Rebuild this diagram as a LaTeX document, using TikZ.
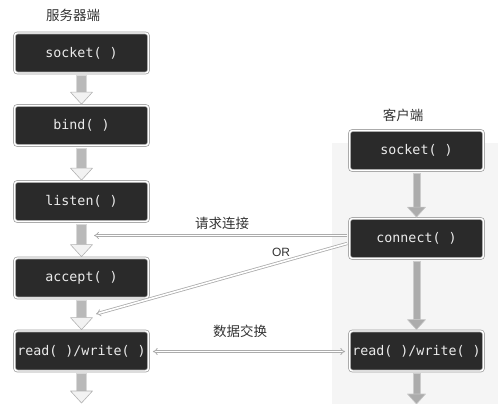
\documentclass[tikz,border=0pt]{standalone}
\usepackage{fontspec}
\setmainfont{Liberation Sans}
\newfontfamily\cjk{Noto Sans CJK SC}
\newfontfamily\boxfont{DejaVu Sans Mono}
\usetikzlibrary{arrows.meta,calc}
\definecolor{boxfill}{HTML}{2A2A2A}
\tikzset{
  fnbox/.style={rounded corners=3pt, fill=boxfill, draw=gray!75, double=white,
    double distance=1.4pt, line width=0.7pt, minimum width=134pt, minimum height=40pt,
    text=white!92!black, font=\boxfont\fontsize{13.3}{15}\selectfont, inner sep=0pt},
  cjklabel/.style={font=\cjk\fontsize{13.5}{15}\selectfont, text=black!80},
  conn/.style={draw=gray!65, double=white, double distance=1.6pt, line width=0.8pt,
    >={Implies[length=6pt, width=13pt]}},
  srvshaft/.style={fill=gray!55, draw=gray!30, line width=0.6pt},
  srvhead/.style={fill=gray!10, draw=gray!60, line width=0.6pt, line join=round},
  clishaft/.style={fill=gray!65, draw=gray!40, line width=0.6pt},
  clihead/.style={fill=gray!65, draw=gray!45, line width=0.6pt, line join=round},
}
\newcommand\srvarr[2]{%
  \path[srvshaft] let \p1=(#1), \p2=(#2) in (\x1-5pt,\y1-2pt) rectangle (\x1+5pt,\y2+13pt);
  \path[srvhead] let \p1=(#1), \p2=(#2) in (\x1-11pt,\y2+13pt) -- (\x1+11pt,\y2+13pt) -- (\x1,\y2+1pt) -- cycle;
}
\newcommand\cliarr[2]{%
  \path[clishaft] let \p1=(#1), \p2=(#2) in (\x1-3.5pt,\y1-2pt) rectangle (\x1+3.5pt,\y2+11pt);
  \path[clihead] let \p1=(#1), \p2=(#2) in (\x1-9pt,\y2+11pt) -- (\x1+9pt,\y2+11pt) -- (\x1,\y2+1pt) -- cycle;
}
\begin{document}
\begin{tikzpicture}[x=1pt,y=-1pt]
\useasboundingbox (0,0) rectangle (498,404);
% client panel
\fill[gray!8] (332,143) rectangle (498,404);

% titles
\node[cjklabel] (tsrv) at (73,15) {服务器端};
\node[cjklabel] (tcli) at (403,115) {客户端};

% server boxes
\node[fnbox] (s1) at (81.5,53) {socket( )};
\node[fnbox] (s2) at (81.5,125.5) {bind( )};
\node[fnbox] (s3) at (81.5,201.5) {listen( )};
\node[fnbox] (s4) at (81.5,278) {accept( )};
\node[fnbox] (s5) at (81.5,351) {read( )/write( )};
\coordinate (sEnd) at (81.5,404);

% client boxes
\node[fnbox] (c1) at (416.5,150.5) {socket( )};
\node[fnbox] (c2) at (416.5,238.5) {connect( )};
\node[fnbox] (c3) at (416.5,351) {read( )/write( )};
\coordinate (cEnd) at (416.5,405);

% server flow arrows
\srvarr{s1.south}{s2.north}
\srvarr{s2.south}{s3.north}
\srvarr{s3.south}{s4.north}
\srvarr{s4.south}{s5.north}
\srvarr{s5.south}{sEnd}

% client flow arrows
\cliarr{c1.south}{c2.north}
\cliarr{c2.south}{c3.north}
\cliarr{c3.south}{cEnd}

% connection request
\coordinate (req1) at (94,235.5);
\coordinate (req2) at (96,314);
\draw[conn, ->] ($(c2.west)+(-2,-3)$) -- (req1);
\draw[conn, ->] ($(c2.west)+(-2,5)$) -- (req2);
\node[cjklabel] (lreq) at (222,223) {请求连接};
\node[font=\fontsize{12}{14}\selectfont, text=black!80] (lor) at (281,252) {OR};

% data exchange
\draw[conn, <->] ($(s5.east)+(4,0.5)$) -- ($(c3.west)+(-4,0.5)$);
\node[cjklabel] (ldata) at (240,331) {数据交换};
\end{tikzpicture}
\end{document}
